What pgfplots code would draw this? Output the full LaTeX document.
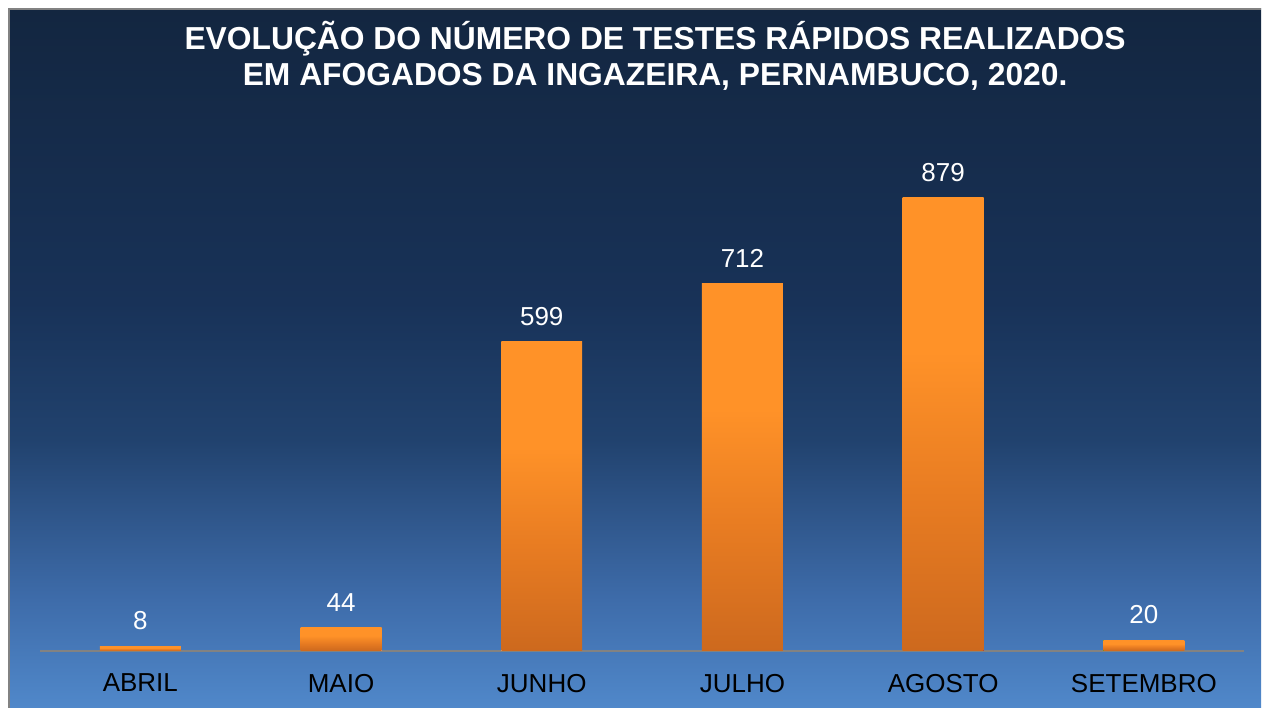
\documentclass[border=0pt]{standalone}
\usepackage{pgfplots}
\pgfplotsset{compat=1.18}
\usepackage{fontspec}
\setmainfont{Liberation Sans}
\definecolor{bgtop}{RGB}{19,38,64}
\definecolor{bgm1}{RGB}{24,50,88}
\definecolor{bgm2}{RGB}{33,66,110}
\definecolor{bgm3}{RGB}{62,108,170}
\definecolor{bgbot}{RGB}{80,136,202}
\definecolor{bartop}{RGB}{255,146,40}
\definecolor{barmid}{RGB}{232,124,34}
\definecolor{barbot}{RGB}{205,105,30}
\definecolor{axgray}{RGB}{130,130,130}
\pgfdeclareverticalshading{bgshade}{100bp}{color(0bp)=(bgbot); color(25bp)=(bgbot); color(32.7bp)=(bgm3); color(44.2bp)=(bgm2); color(54bp)=(bgm1); color(75bp)=(bgtop); color(100bp)=(bgtop)}
\pgfdeclareverticalshading{barshade}{100bp}{color(0bp)=(barbot); color(25bp)=(barbot); color(42bp)=(barmid); color(58bp)=(bartop); color(75bp)=(bartop); color(100bp)=(bartop)}
\begin{document}
\begin{tikzpicture}[x=1pt,y=1pt]
\fill[white] (-20,-28.5) rectangle (611,325.5);
\shade[shading=bgshade] (-15.5,-28.5) rectangle (611,321);
\draw[axgray, line width=0.8pt] (-15.5,-28.5) -- (-15.5,321) -- (611,321);
\node[align=center, text=white, font=\bfseries\fontsize{15.9}{17.8}\selectfont] at (307.75,297.5) {EVOLUÇÃO DO NÚMERO DE TESTES RÁPIDOS REALIZADOS\\EM AFOGADOS DA INGAZEIRA, PERNAMBUCO, 2020.};
\begin{axis}[
  scale only axis, width=602.5pt, height=265.5pt,
  at={(0,0)}, anchor=south west,
  xmin=-0.5, xmax=5.5, ymin=0, ymax=1030,
  axis x line*=bottom, hide y axis,
  x axis line style={-, axgray, line width=1pt},
  xtick={0,1,2,3,4,5},
  xticklabels={ABRIL,MAIO,JUNHO,JULHO,AGOSTO,SETEMBRO},
  major tick length=0pt,
  xticklabel style={font=\fontsize{13}{13}\selectfont, text=black, inner sep=0pt, anchor=north, yshift=-11.5pt},
  /pgf/number format/assume math mode=true,
  ybar, bar width=40.5pt, bar shift=0pt,
  nodes near coords,
  nodes near coords style={font=\fontsize{13}{13}\selectfont, text=white, anchor=south, inner sep=0pt, yshift=8pt},
  clip=false,
  every axis plot/.append style={draw=none, shading=barshade},
]
\addplot coordinates {(0,8)};
\addplot coordinates {(1,44)};
\addplot coordinates {(2,599)};
\addplot coordinates {(3,712)};
\addplot coordinates {(4,879)};
\addplot coordinates {(5,20)};
\end{axis}
\end{tikzpicture}
\end{document}
